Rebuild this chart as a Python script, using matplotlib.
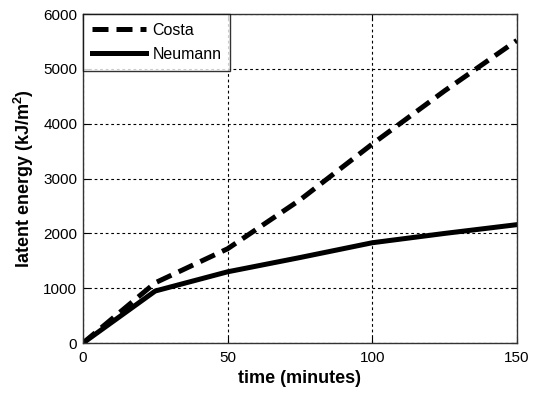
import matplotlib
matplotlib.use("Agg")
import matplotlib.pyplot as plt

plt.rcParams['font.family'] = ['Liberation Sans', 'DejaVu Sans']
plt.rcParams['mathtext.fontset'] = 'custom'
plt.rcParams['mathtext.rm'] = 'Liberation Sans'
plt.rcParams['mathtext.bf'] = 'Liberation Sans:bold'

time_costa = [0, 25, 50, 75, 100, 125, 150]
costa = [0, 1100, 1720, 2610, 3630, 4600, 5520]
time_neumann = [0, 25, 50, 75, 100, 125, 150]
neumann = [0, 950, 1300, 1560, 1830, 2000, 2160]

xticks = [0, 50, 100, 150]
yticks = [0, 1000, 2000, 3000, 4000, 5000, 6000]

fig = plt.figure(figsize=(5.35, 3.93), dpi=100)
ax = fig.add_axes([0.155, 0.127, 0.811, 0.837])

ax.plot(time_costa, costa, color='black', lw=3.6, linestyle=(0, (3.2, 1.6)), label='Costa',
        dash_capstyle='butt', dash_joinstyle='round')
ax.plot(time_neumann, neumann, color='black', lw=3.6, label='Neumann', solid_joinstyle='round')

ax.set_xlim(0, 150)
ax.set_ylim(0, 6000)
ax.set_xticks(xticks)
ax.set_yticks(yticks)
ax.tick_params(direction='in', length=4, labelsize=11, top=True, right=True, width=0.8)
ax.tick_params(axis='x', pad=6)
ax.tick_params(axis='y', pad=4)
ax.grid(True, color='black', linestyle=(0, (2.5, 2.5)), linewidth=0.8)
for s in ax.spines.values():
    s.set_linewidth(1.0)
    s.set_color('#333333')

ax.set_xlabel('time (minutes)', fontsize=13, fontweight='bold', labelpad=3)
ax.set_ylabel(r'latent energy (kJ/m$^{\mathbf{2}}$)', fontsize=13, fontweight='bold', labelpad=5)

leg = ax.legend(loc='upper left', fontsize=11.5, handlelength=3.4, frameon=True, fancybox=False,
                borderaxespad=0, borderpad=0.55, labelspacing=0.55, handletextpad=0.4)
leg.get_frame().set_edgecolor('black')
leg.get_frame().set_linewidth(1.0)

fig.savefig('out.png', dpi=100)
